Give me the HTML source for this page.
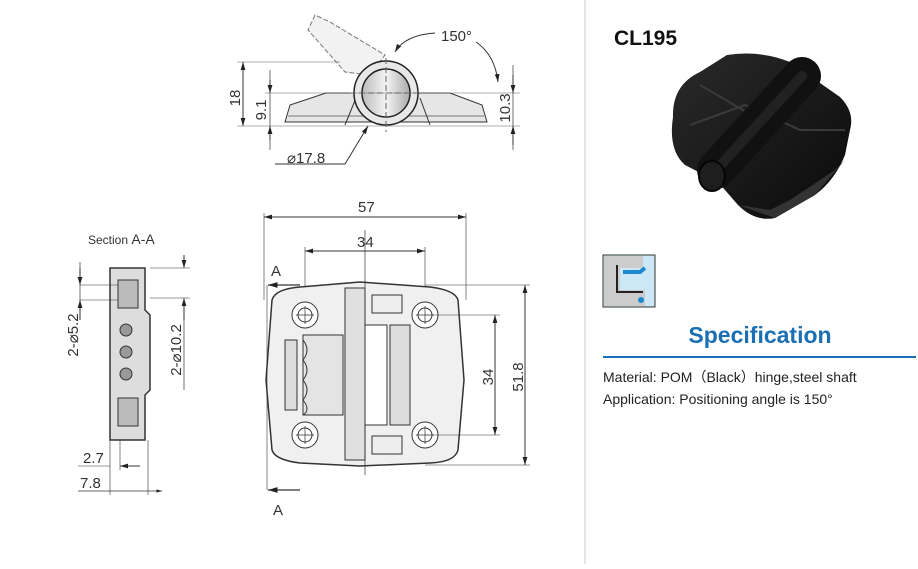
<!DOCTYPE html>
<html><head><style>
body{margin:0;background:#fff;width:918px;height:564px;overflow:hidden;font-family:"Liberation Sans",sans-serif}
</style></head><body>
<svg width="918" height="564" xmlns="http://www.w3.org/2000/svg" font-family="Liberation Sans, sans-serif">
<defs>
<marker id="a" viewBox="0 0 10 10" refX="10" refY="5" markerWidth="8" markerHeight="8" orient="auto-start-reverse"><path d="M0,2L10,5L0,8z" fill="#222"/></marker>
<linearGradient id="cy" x1="0" x2="1"><stop offset="0" stop-color="#bbb"/><stop offset=".5" stop-color="#f4f4f4"/><stop offset="1" stop-color="#aaa"/></linearGradient>
<linearGradient id="blk" x1="0" y1="0" x2="1" y2="1"><stop offset="0" stop-color="#2a2a2a"/><stop offset="1" stop-color="#0a0a0a"/></linearGradient>
</defs>
<line x1="585" y1="0" x2="585" y2="564" stroke="#ccc"/>

<g stroke="#333" stroke-width="1" fill="none">
<path d="M285,122 L290,105 L326,93 L355,93 L355,98 L400,98 L420,93 L450,93 L482,105 L487,122 Z" fill="#e6e6e6"/>
<path d="M288,116 L484,116" stroke="#777"/>
<path d="M345,125 L356,98 M430,125 L420,98" />
<path d="M315,15 L308,30 L345,72 L370,75 L385,55 L330,22 Z" fill="#f2f2f2" stroke="#777" stroke-dasharray="5 2"/>
<circle cx="386" cy="93" r="32" fill="#e8e8e8" stroke="#222" stroke-width="1.5"/>
<circle cx="386" cy="93" r="24" fill="url(#cy)" stroke="#222" stroke-width="1.5"/>
<line x1="386" y1="58" x2="386" y2="132" stroke-dasharray="6 3" stroke="#666"/>
<line x1="350" y1="93" x2="420" y2="93" stroke-dasharray="6 3" stroke="#666"/>
<line x1="237" y1="62" x2="340" y2="62" stroke="#666" stroke-width=".6"/>
<line x1="237" y1="126" x2="520" y2="126" stroke="#666" stroke-width=".6"/>
<line x1="265" y1="93" x2="520" y2="93" stroke="#666" stroke-width=".6"/>
<line x1="243" y1="62" x2="243" y2="126" marker-start="url(#a)" marker-end="url(#a)"/>
<line x1="270" y1="70" x2="270" y2="150" stroke-width=".7"/>
<path d="M270,80 L270,93" marker-end="url(#a)"/>
<path d="M270,140 L270,126" marker-end="url(#a)"/>
<line x1="513" y1="65" x2="513" y2="150" stroke-width=".7"/>
<path d="M513,75 L513,93" marker-end="url(#a)"/>
<path d="M513,145 L513,126" marker-end="url(#a)"/>
<path d="M275,164 L345,164 L368,126" marker-end="url(#a)"/>
<path d="M435,33 Q405,35 395,52" marker-end="url(#a)"/>
<path d="M476,42 Q495,55 498,82" marker-end="url(#a)"/>
</g>
<g font-size="15" fill="#333">
<text x="441" y="41">150°</text>
<text x="287" y="163">⌀17.8</text>
<text transform="translate(240,98) rotate(-90)" text-anchor="middle">18</text>
<text transform="translate(266,110) rotate(-90)" text-anchor="middle">9.1</text>
<text transform="translate(510,108) rotate(-90)" text-anchor="middle">10.3</text>
</g>

<g stroke="#333" fill="none" stroke-width="1">
<line x1="264" y1="213" x2="264" y2="300" stroke-width=".6"/>
<line x1="466" y1="213" x2="466" y2="300" stroke-width=".6"/>
<line x1="264" y1="217" x2="466" y2="217" marker-start="url(#a)" marker-end="url(#a)"/>
<line x1="305" y1="247" x2="305" y2="290" stroke-width=".6"/>
<line x1="425" y1="247" x2="425" y2="290" stroke-width=".6"/>
<line x1="305" y1="251" x2="425" y2="251" marker-start="url(#a)" marker-end="url(#a)"/>
<path d="M300,287 L360,282 L430,287 Q455,290 458,300 L464,380 L458,450 Q455,462 430,463 L360,466 L300,463 Q275,460 272,450 L266,380 L272,300 Q275,289 300,287 Z" fill="#f0f0f0" stroke-width="1.5"/>
<rect x="345" y="288" width="20" height="172" fill="#e0e0e0"/>
<rect x="365" y="325" width="22" height="100" fill="#fff"/>
<rect x="390" y="325" width="20" height="100" fill="#ddd"/>
<rect x="303" y="335" width="40" height="80" fill="#e4e4e4"/>
<path d="M303,340 q8,10 0,20 q8,10 0,20 q8,10 0,20 q8,10 0,15" />
<rect x="285" y="340" width="12" height="70" fill="#ddd"/>
<rect x="372" y="295" width="30" height="18" fill="#eee"/>
<rect x="372" y="436" width="30" height="18" fill="#eee"/>
<circle cx="305" cy="315" r="13" fill="#fff"/><circle cx="305" cy="315" r="7"/>
<circle cx="305" cy="435" r="13" fill="#fff"/><circle cx="305" cy="435" r="7"/>
<circle cx="425" cy="315" r="13" fill="#fff"/><circle cx="425" cy="315" r="7"/>
<circle cx="425" cy="435" r="13" fill="#fff"/><circle cx="425" cy="435" r="7"/>
<path d="M296,315h18M305,306v18M296,435h18M305,426v18M416,315h18M425,306v18M416,435h18M425,426v18" stroke-width=".7"/>
<line x1="365" y1="230" x2="365" y2="475" stroke-width=".7"/>
<line x1="425" y1="285" x2="530" y2="285" stroke-width=".6"/>
<line x1="425" y1="465" x2="530" y2="465" stroke-width=".6"/>
<line x1="432" y1="315" x2="500" y2="315" stroke-width=".6"/>
<line x1="432" y1="435" x2="500" y2="435" stroke-width=".6"/>
<line x1="525" y1="285" x2="525" y2="465" marker-start="url(#a)" marker-end="url(#a)"/>
<line x1="495" y1="315" x2="495" y2="435" marker-start="url(#a)" marker-end="url(#a)"/>
<path d="M267,285 L267,490" stroke-width=".6"/>
<path d="M300,285 L268,285" marker-end="url(#a)" stroke-width="1.2"/>
<path d="M300,490 L268,490" marker-end="url(#a)" stroke-width="1.2"/>
</g>
<g font-size="15" fill="#333">
<text x="358" y="212">57</text>
<text x="357" y="247">34</text>
<text x="271" y="276">A</text>
<text x="273" y="515">A</text>
<text transform="translate(493,377) rotate(-90)" text-anchor="middle">34</text>
<text transform="translate(523,377) rotate(-90)" text-anchor="middle">51.8</text>
</g>

<text x="88" y="244" font-size="12" fill="#333">Section <tspan font-size="14">A-A</tspan></text>
<g stroke="#333" fill="none" stroke-width="1">
<path d="M110,268 L145,268 L145,310 L150,315 L150,390 L145,395 L145,440 L110,440 Z" fill="#ddd" stroke-width="1.5"/>
<rect x="118" y="280" width="20" height="28" fill="#bbb"/>
<rect x="118" y="398" width="20" height="28" fill="#bbb"/>
<circle cx="126" cy="330" r="6" fill="#999"/><circle cx="126" cy="352" r="6" fill="#999"/><circle cx="126" cy="374" r="6" fill="#999"/>
<line x1="80" y1="262" x2="80" y2="300" stroke-width=".7"/>
<line x1="80" y1="285" x2="118" y2="285" stroke-width=".6"/>
<line x1="80" y1="300" x2="118" y2="300" stroke-width=".6"/>
<path d="M80,268 L80,285" marker-end="url(#a)"/>
<path d="M80,320 L80,300" marker-end="url(#a)"/>
<line x1="150" y1="268" x2="190" y2="268" stroke-width=".6"/>
<line x1="150" y1="298" x2="190" y2="298" stroke-width=".6"/>
<path d="M184,255 L184,268" marker-end="url(#a)"/>
<path d="M184,320 L184,298" marker-end="url(#a)"/>
<line x1="184" y1="298" x2="184" y2="390" stroke-width=".7"/>
<line x1="110" y1="440" x2="110" y2="495" stroke-width=".6"/>
<line x1="120" y1="440" x2="120" y2="470" stroke-width=".6"/>
<line x1="148" y1="440" x2="148" y2="495" stroke-width=".6"/>
<line x1="78" y1="466" x2="110" y2="466" stroke-width=".6"/>
<path d="M140,466 L120,466" marker-end="url(#a)"/>
<line x1="78" y1="491" x2="162" y2="491" marker-end="url(#a)" stroke-width=".7"/>
</g>
<g font-size="15" fill="#333">
<text transform="translate(78,335) rotate(-90)" text-anchor="middle">2-⌀5.2</text>
<text transform="translate(181,350) rotate(-90)" text-anchor="middle">2-⌀10.2</text>
<text x="83" y="463">2.7</text>
<text x="80" y="488">7.8</text>
</g>

<text x="614" y="45" font-size="21" font-weight="bold" fill="#111">CL195</text>
<g>
<path d="M673,117 Q672,85 700,72 L727,55 Q760,50 790,62 L840,97 Q855,112 850,130 L845,155 Q835,180 815,195 L775,218 Q755,222 738,205 L718,182 L685,165 Q668,150 673,117 Z" fill="url(#blk)"/>
<path d="M738,205 L775,218 L815,195 L845,160 L835,170 L790,200 L770,210 Z" fill="#333"/>
<path d="M690,125 L745,105 L800,130 L845,130 M700,85 L760,120" stroke="#3a3a3a" stroke-width="2" fill="none"/>
<line x1="716" y1="170" x2="802" y2="76" stroke="#111" stroke-width="38" stroke-linecap="round"/>
<line x1="716" y1="170" x2="802" y2="76" stroke="#2c2c2c" stroke-width="10" stroke-linecap="round" opacity=".6"/>
<ellipse cx="712" cy="176" rx="13" ry="15" fill="#1e1e1e" stroke="#050505" stroke-width="2"/>
</g>
<rect x="603" y="255" width="52" height="52" fill="#cce8f6" stroke="#333"/>
<path d="M604,256 L643,256 L643,268 L620,268 L620,290 L645,290 L645,306 L604,306Z" fill="#ccc"/>
<path d="M617,265 L617,292 L643,292" stroke="#222" stroke-width="2" fill="none"/>
<path d="M623,272 L640,272 L645,268" stroke="#1e88d0" stroke-width="4" fill="none"/>
<circle cx="641" cy="300" r="3" fill="#1e88d0"/>
<text x="760" y="343" font-size="23" font-weight="bold" fill="#1a6fb5" text-anchor="middle">Specification</text>
<line x1="603" y1="357" x2="916" y2="357" stroke="#1a6fb5" stroke-width="2"/>
<text x="603" y="382" font-size="14" fill="#222">Material: POM（Black）hinge,steel shaft</text>
<text x="603" y="404" font-size="14" fill="#222">Application:  Positioning angle is 150°</text>
</svg>
</body></html>
